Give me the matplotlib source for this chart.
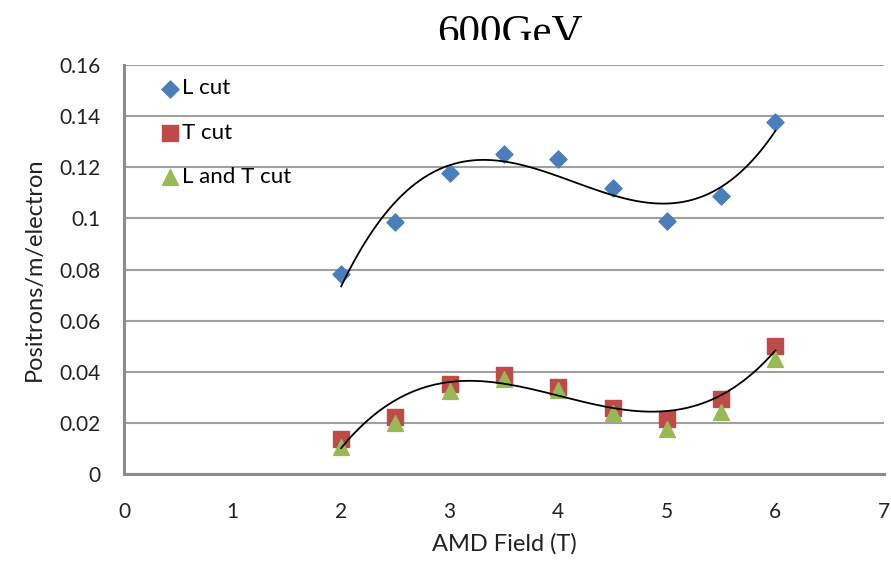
'''
Positron yield vs AMD field at 600GeV
'''
import matplotlib
matplotlib.use('Agg')
import matplotlib.pyplot as plt
import numpy as np
from matplotlib.patches import Rectangle

# Data
field = [2, 2.5, 3, 3.5, 4, 4.5, 5, 5.5, 6]
l_cut = [0.0783, 0.0986, 0.1178, 0.1252, 0.1233, 0.1120, 0.0990, 0.1088, 0.1378]
t_cut = [0.0137, 0.0223, 0.0352, 0.0387, 0.0340, 0.0258, 0.0215, 0.0294, 0.0501]
lt_cut = [0.0106, 0.0200, 0.0325, 0.0372, 0.0329, 0.0239, 0.0176, 0.0243, 0.0450]

plt.rcParams['font.family'] = ['Lato', 'DejaVu Sans']

fig = plt.figure(figsize=(8.91, 5.65), dpi=100)
ax = fig.add_axes([124 / 891, 1 - 474 / 565, 760 / 891, 409 / 565])

ax.scatter(field, l_cut, marker='D', s=75, color='#4a7ebb', label='L cut', zorder=3)
ax.scatter(field, t_cut, marker='s', s=130, color='#be4b48', label='T cut', zorder=3)
ax.scatter(field, lt_cut, marker='^', s=130, color='#98b954', label='L and T cut', zorder=4)

# third order polynomial trendlines
xs = np.linspace(2, 6, 200)
for series in (l_cut, t_cut):
    coef = np.polyfit(field, series, 3)
    ax.plot(xs, np.polyval(coef, xs), color='black', lw=1.3, zorder=5)

ax.set_xlim(0, 7)
ax.set_ylim(0, 0.16)
ax.set_xticks(range(0, 8))
ax.set_yticks(np.arange(0, 0.161, 0.02))
ax.set_yticklabels(['0', '0.02', '0.04', '0.06', '0.08', '0.1', '0.12', '0.14', '0.16'])
ax.tick_params(length=0, labelsize=15, colors='#222222', pad=17)
ax.tick_params(axis='x', pad=20)
ax.grid(axis='y', color='#a0a0a0', lw=1.5)
ax.set_axisbelow(True)
for side in ('top', 'right'):
    ax.spines[side].set_visible(False)
for side in ('left', 'bottom'):
    ax.spines[side].set_color('#8c8c8c')
    ax.spines[side].set_linewidth(2.2)

ax.set_xlabel('AMD Field (T)', fontsize=17, color='#222222', labelpad=8)
ax.set_ylabel('Positrons/m/electron', fontsize=17, color='#222222', labelpad=10)

ax.legend(loc='upper left', bbox_to_anchor=(0.03, 1.0), frameon=False,
          fontsize=16, handletextpad=0.1, labelspacing=1.1, borderaxespad=0.2,
          handlelength=0.9)

# title, clipped at the bottom as in the original
fig.text(510 / 891, 1 - 43 / 565, '600GeV', fontsize=31, family='Liberation Serif',
         ha='center', va='baseline', zorder=1)
fig.patches.append(Rectangle((0.3, 1 - 58 / 565), 0.5, 18 / 565, transform=fig.transFigure,
                             facecolor='white', edgecolor='none', zorder=2))

fig.savefig('out.png', dpi=100)
